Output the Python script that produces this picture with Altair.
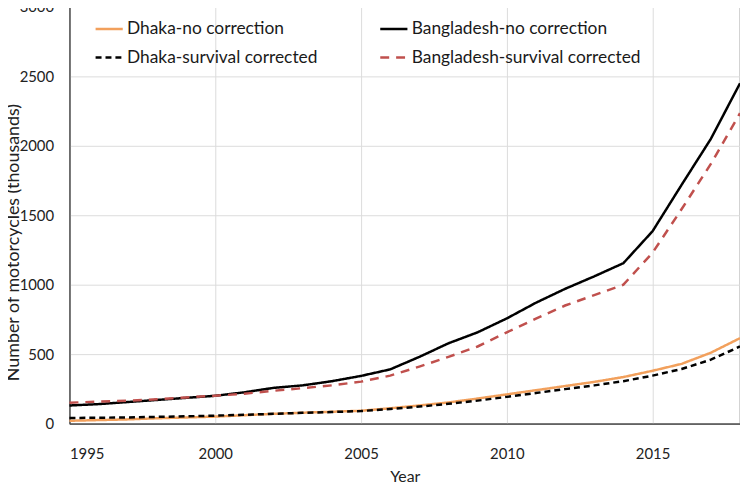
import altair as alt
import pandas as pd

years = list(range(1995, 2019))
dhaka_no = [20, 25, 30, 38, 44, 50, 60, 70, 78, 85, 92, 110, 130, 152, 180, 210, 240, 270, 300, 335, 380, 430, 510, 615]
dhaka_surv = [40, 42, 44, 48, 52, 57, 63, 70, 77, 83, 90, 105, 122, 142, 165, 192, 220, 248, 275, 305, 345, 393, 460, 555]
bd_no = [130, 140, 155, 170, 185, 200, 225, 257, 275, 305, 343, 390, 480, 578, 657, 757, 870, 970, 1060, 1155, 1385, 1720, 2050, 2450]
bd_surv = [150, 158, 165, 175, 188, 200, 215, 236, 255, 275, 302, 345, 410, 480, 555, 657, 755, 850, 925, 1000, 1230, 1545, 1870, 2235]

# legend fills column by column
series_names = ["Dhaka-no correction", "Dhaka-survival corrected",
                "Bangladesh-no correction", "Bangladesh-survival corrected"]
series_values = [dhaka_no, dhaka_surv, bd_no, bd_surv]
colors = ["#F2A05C", "#000000", "#000000", "#C0504D"]
dashes = [[1, 0], [6, 4], [1, 0], [9, 7]]

rows = []
for name, vals in zip(series_names, series_values):
    for y, v in zip(years, vals):
        rows.append({"Year": y, "Value": v, "Series": name})
df = pd.DataFrame(rows)

FONT = "Lato"

chart = alt.Chart(df).mark_line(strokeWidth=2.5, interpolate="linear").encode(
    x=alt.X("Year:Q", scale=alt.Scale(domain=[1995, 2018], nice=False, zero=False),
            axis=alt.Axis(values=[1995, 2000, 2005, 2010, 2015], format="d",
                          title="Year", ticks=False, labelPadding=23, titlePadding=7)),
    y=alt.Y("Value:Q", scale=alt.Scale(domain=[0, 3000], nice=False),
            axis=alt.Axis(values=[0, 500, 1000, 1500, 2000, 2500, 3000], format="d",
                          title="Number of motorcycles (thousands)", ticks=False,
                          labelPadding=16, titleFontSize=18, titleX=-47, titleY=237,
                          titleBaseline="bottom")),
    color=alt.Color("Series:N", sort=series_names,
                    scale=alt.Scale(domain=series_names, range=colors),
                    legend=alt.Legend(title=None, orient="none", legendX=25, legendY=7,
                                      columns=2, columnPadding=57, rowPadding=5,
                                      symbolType="stroke", symbolSize=750,
                                      symbolStrokeWidth=2.5, labelFontSize=17.5,
                                      labelFont=FONT, labelColor="#1a1a1a",
                                      labelOffset=3, labelLimit=400)),
    strokeDash=alt.StrokeDash("Series:N", sort=series_names,
                              scale=alt.Scale(domain=series_names, range=dashes),
                              legend=None),
).properties(
    width=676, height=420,
    autosize=alt.AutoSizeParams(type="none"),
    padding={"left": 62, "top": -3, "right": 0, "bottom": 60},
).configure_view(
    stroke="#6e6e6e", strokeWidth=1.2
).configure_axis(
    labelFont=FONT, titleFont=FONT, labelFontSize=15, titleFontSize=16,
    labelColor="#222222", titleColor="#222222", titleFontWeight="normal",
    gridColor="#dcdcdc", gridWidth=1, domainColor="#404040", domainWidth=1.2,
)

chart.save("out.html", embed_options={"renderer": "svg", "actions": False})
